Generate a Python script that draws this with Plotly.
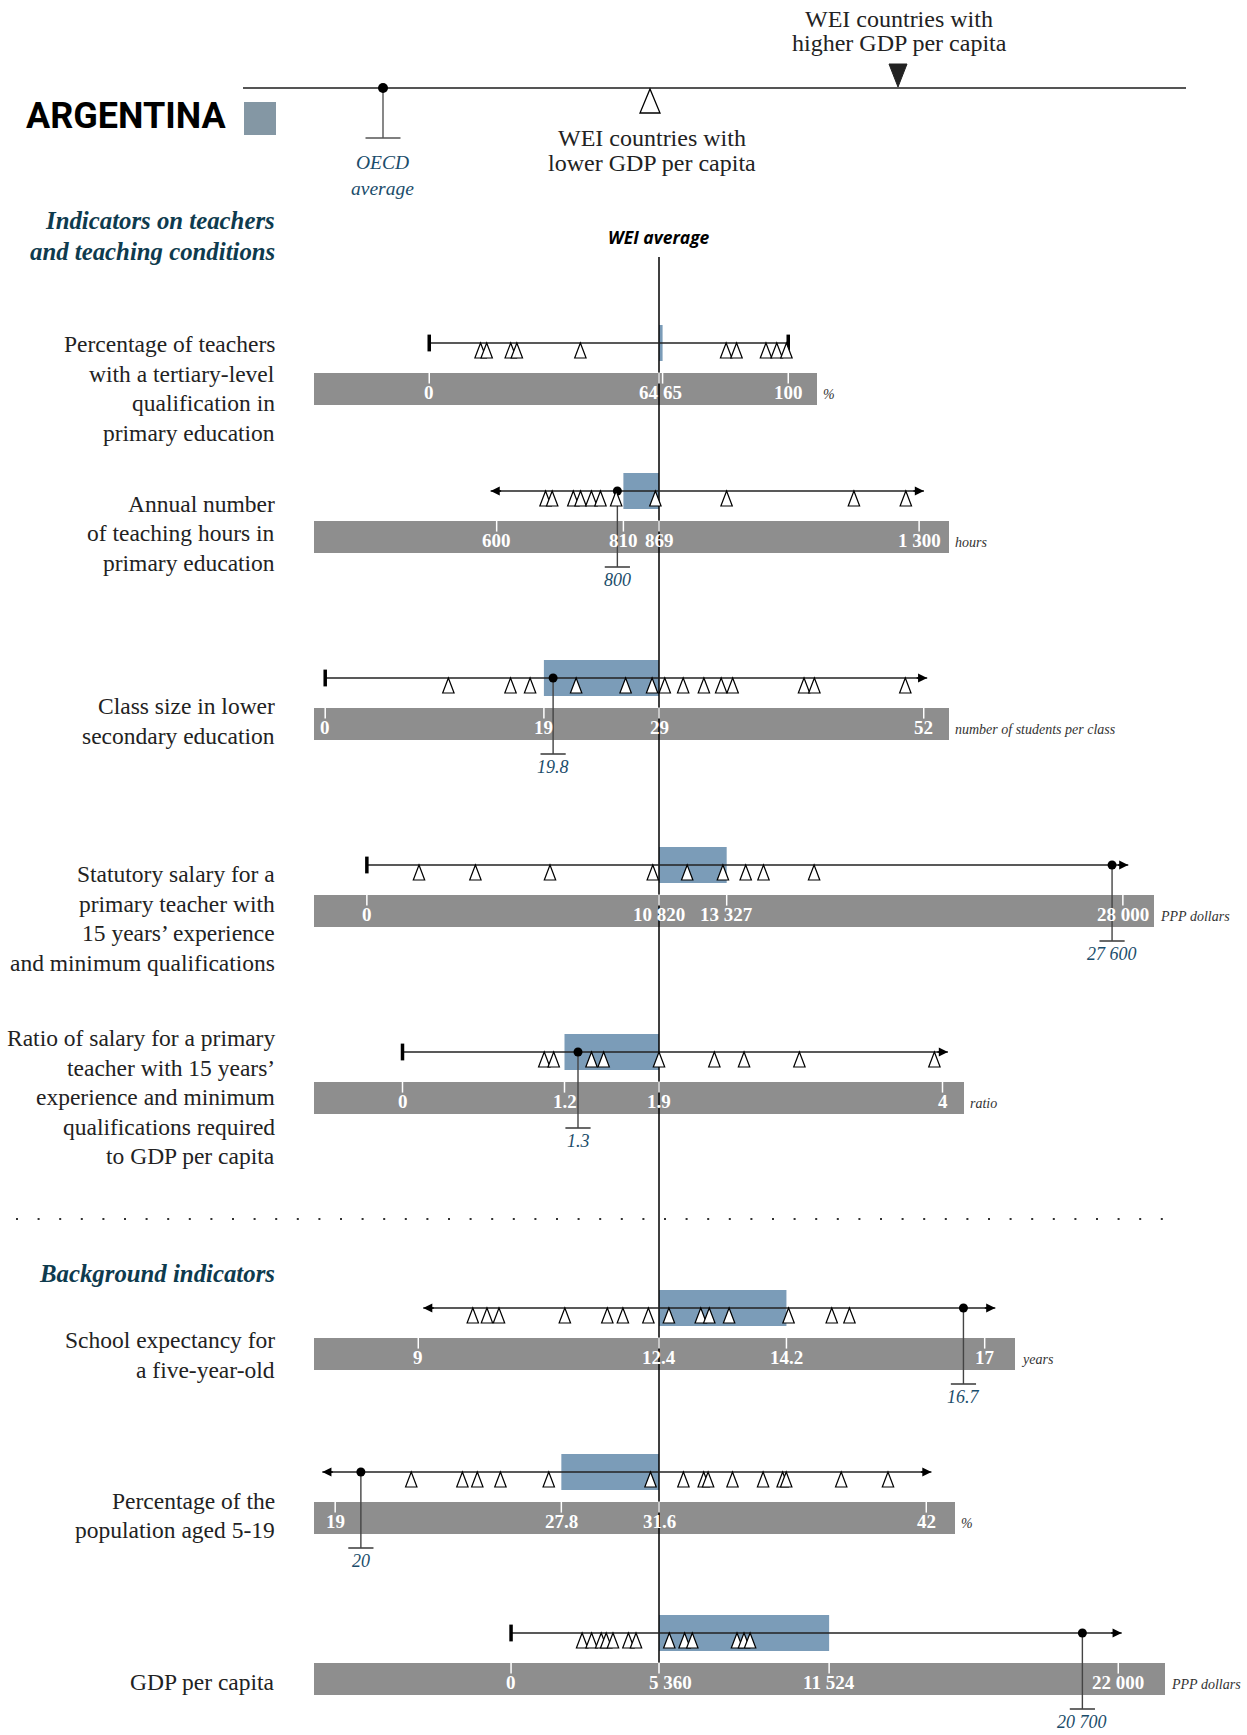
import plotly.graph_objects as go

W, H = 1247, 1735

# ---------------- data ----------------
LABELS = [
    ["Percentage of teachers", "with a tertiary-level", "qualification in", "primary education"],
    ["Annual number", "of teaching hours in", "primary education"],
    ["Class size in lower", "secondary education"],
    ["Statutory salary for a", "primary teacher with", "15 years’ experience", "and minimum qualifications"],
    ["Ratio of salary for a primary", "teacher with 15 years’", "experience and minimum",
     "qualifications required", "to GDP per capita"],
    ["School expectancy for", "a five-year-old"],
    ["Percentage of the", "population aged 5-19"],
    ["GDP per capita"],
]
UNITS = ["%", "hours", "number of students per class", "PPP dollars", "ratio", "years", "%", "PPP dollars"]

WEI_AVG = [64, 869, 29, 10820, 1.9, 12.4, 31.6, 5360]
ARGENTINA = [65, 810, 19, 13327, 1.2, 14.2, 27.8, 11524]
OECD_AVG = [None, 800, 19.8, 27600, 1.3, 16.7, 20, 20700]
OECD_TEXT = ["", "800", "19.8", "27 600", "1.3", "16.7", "20", "20 700"]

# extent of the WEI countries line and how each end is drawn
SPAN_LO = [0, 590, 0, 0, 0, 9.07, 18.5, 0]
SPAN_HI = [100, 1308, 52.3, 28200, 4.04, 17.15, 42.2, 22124]
LO_END = ["bar", "arrow", "bar", "bar", "bar", "arrow", "arrow", "bar"]
HI_END = ["bar", "arrow", "arrow", "arrow", "arrow", "arrow", "arrow", "arrow"]

TICKS = [
    [0, 64, 65, 100],
    [600, 810, 869, 1300],
    [0, 19, 29, 52],
    [0, 10820, 13327, 28000],
    [0, 1.2, 1.9, 4],
    [9, 12.4, 14.2, 17],
    [19, 27.8, 31.6, 42],
    [0, 5360, 11524, 22000],
]
TICK_TEXT = [
    ["0", "64", "65", "100"],
    ["600", "810", "869", "1 300"],
    ["0", "19", "29", "52"],
    ["0", "10 820", "13 327", "28 000"],
    ["0", "1.2", "1.9", "4"],
    ["9", "12.4", "14.2", "17"],
    ["19", "27.8", "31.6", "42"],
    ["0", "5 360", "11 524", "22 000"],
]

# other WEI countries (open triangles)
COUNTRIES = [
    [14.3, 16.0, 22.7, 24.4, 42.1, 82.7, 85.6, 93.8, 96.8, 99.5],
    [681, 692, 727, 739, 757, 772, 798, 863, 981, 1192, 1278],
    [10.7, 16.1, 17.8, 21.8, 26.1, 28.4, 29.5, 31.1, 32.9, 34.4, 35.4, 41.6, 42.5, 50.4],
    [1931, 4020, 6783, 10590, 11864, 13187, 14031, 14690, 16564],
    [1.05, 1.12, 1.40, 1.49, 1.90, 2.31, 2.53, 2.94, 3.94],
    [9.77, 9.97, 10.14, 11.07, 11.67, 11.89, 12.25, 12.54, 12.99, 13.11, 13.39, 14.23, 14.84, 15.09],
    [21.96, 23.95, 24.53, 25.43, 27.31, 31.27, 32.55, 33.34, 33.51, 34.46, 35.65, 36.41, 36.55, 38.69, 40.51],
    [2574, 2918, 3266, 3447, 3693, 4251, 4527, 5733, 6288, 6567, 8186, 8440, 8661],
]

# ---------------- layout settings ----------------
WEI_X = 659                       # pixel column of the WEI average line
PX_PER_UNIT = [3.59, 0.6035, 11.51, 0.027, 135, 70.8, 25.7, 0.0276]
ROW_Y = [343, 491, 678, 865, 1052, 1308, 1472, 1633]
LABEL_Y = [344, 503.5, 706, 874, 1038, 1340, 1500.5, 1682]
BAND_RIGHT = [817, 949, 949, 1154, 964, 1015, 955, 1165]
BAND_LEFT = 314
TICK_ANCHOR = {(0, 1): ("right", 1), (0, 2): ("left", -1), (7, 1): ("center", 11)}

GREY = "#8e8e8e"
BLUE = "#7b9cb8"
NAVY = "#1b4d6b"
TEAL = "#0e3b4e"
SERIF = "Liberation Serif, Times New Roman, serif"

fig = go.Figure()
shapes = []
annotations = []


def text(x, y, s, size, color="#222", xanchor="center", family=SERIF, xref="x"):
    annotations.append(dict(
        x=x, y=y, xref=xref, yref="y", text=s, showarrow=False,
        xanchor=xanchor, yanchor="middle", borderpad=0,
        font=dict(family=family, size=size, color=color),
    ))


layout = dict(
    xaxis=dict(range=[0, W], visible=False, domain=[0, 1], fixedrange=True),
    yaxis=dict(range=[H, 0], visible=False, domain=[0, 1], fixedrange=True),
)
for i in range(8):
    k = PX_PER_UNIT[i]
    w = WEI_AVG[i]
    layout["xaxis%d" % (i + 2)] = dict(
        range=[w - WEI_X / k, w + (W - WEI_X) / k],
        overlaying="x", anchor="y", visible=False, fixedrange=True,
    )

# grey bands first, then Argentina bars
for i in range(8):
    y = ROW_Y[i]
    shapes.append(dict(type="rect", xref="x", yref="y", x0=BAND_LEFT, x1=BAND_RIGHT[i],
                       y0=y + 30, y1=y + 62, fillcolor=GREY, line=dict(width=0), layer="below"))
for i in range(8):
    y = ROW_Y[i]
    shapes.append(dict(type="rect", xref="x%d" % (i + 2), yref="y", x0=WEI_AVG[i], x1=ARGENTINA[i],
                       y0=y - 18, y1=y + 18, fillcolor=BLUE, line=dict(width=0), layer="below"))

# WEI average vertical line
shapes.append(dict(type="line", xref="x2", yref="y", x0=WEI_AVG[0], x1=WEI_AVG[0], y0=257, y1=1663,
                   line=dict(color="black", width=1.5), layer="below"))

# dotted separator
shapes.append(dict(type="line", xref="x", yref="y", x0=16, x1=1182, y0=1219, y1=1219,
                   line=dict(color="#333", width=2.2, dash="2px,19.6px")))

for i in range(8):
    xa = "x%d" % (i + 2)
    y = ROW_Y[i]

    # main line
    fig.add_trace(go.Scatter(x=[SPAN_LO[i], SPAN_HI[i]], y=[y, y], xaxis=xa, yaxis="y",
                             mode="lines", line=dict(color="#222", width=1.4),
                             hoverinfo="skip", showlegend=False))
    for end, val, ax in ((LO_END[i], SPAN_LO[i], 12), (HI_END[i], SPAN_HI[i], -12)):
        if end == "bar":
            fig.add_trace(go.Scatter(x=[val], y=[y], xaxis=xa, yaxis="y", mode="markers",
                                     marker=dict(symbol="line-ns", size=12,
                                                 line=dict(color="black", width=3.5)),
                                     hoverinfo="skip", showlegend=False))
        else:
            annotations.append(dict(x=val, y=y, xref=xa, yref="y", ax=ax, ay=0, text="",
                                    showarrow=True, arrowhead=2, arrowsize=1.3, arrowwidth=1.4,
                                    arrowcolor="black"))

    # WEI countries
    for v in COUNTRIES[i]:
        shapes.append(dict(type="path", xref=xa, yref="y", xsizemode="pixel", xanchor=v,
                           path="M-5.7,%s L5.7,%s L0,%s Z" % (y + 15, y + 15, y),
                           fillcolor="white", line=dict(color="black", width=1.2)))

    # OECD average pin
    if OECD_AVG[i] is not None:
        o = OECD_AVG[i]
        fig.add_trace(go.Scatter(x=[o, o], y=[y, y + 76], xaxis=xa, yaxis="y", mode="lines",
                                 line=dict(color="#444", width=1.4),
                                 hoverinfo="skip", showlegend=False))
        fig.add_trace(go.Scatter(x=[o], y=[y + 76], xaxis=xa, yaxis="y", mode="markers",
                                 marker=dict(symbol="line-ew", size=18, line=dict(color="#444", width=1.6)),
                                 hoverinfo="skip", showlegend=False))
        fig.add_trace(go.Scatter(x=[o], y=[y], xaxis=xa, yaxis="y", mode="markers",
                                 marker=dict(symbol="circle", size=9, color="black"),
                                 hoverinfo="skip", showlegend=False))
        text(o, y + 89, "<i>%s</i>" % OECD_TEXT[i], 18, NAVY, xref=xa)

    # scale ticks on the grey band
    fig.add_trace(go.Scatter(x=TICKS[i], y=[y + 35] * len(TICKS[i]), xaxis=xa, yaxis="y",
                             mode="markers",
                             marker=dict(symbol="line-ns", size=8, line=dict(color="white", width=1.5)),
                             hoverinfo="skip", showlegend=False))
    for j, (tv, tt) in enumerate(zip(TICKS[i], TICK_TEXT[i])):
        anchor, shift = TICK_ANCHOR.get((i, j), ("center", 0))
        annotations.append(dict(x=tv, y=y + 49, xref=xa, yref="y", text="<b>%s</b>" % tt,
                                showarrow=False, xanchor=anchor, yanchor="middle", xshift=shift,
                                borderpad=0,
                                font=dict(family=SERIF, size=19, color="white")))

    # unit after the band
    text(BAND_RIGHT[i] + 5, y + 51, "<i>%s</i>" % UNITS[i], 14, "#333", xanchor="left")

    # indicator label on the left
    for n, line in enumerate(LABELS[i]):
        text(276, LABEL_Y[i] + n * 29.5, line, 23.5, "#222", xanchor="right")

# ---------------- header / legend ----------------
fig.add_trace(go.Scatter(x=[243, 1186], y=[88, 88], xaxis="x", yaxis="y", mode="lines",
                         line=dict(color="#555", width=2), hoverinfo="skip", showlegend=False))
fig.add_trace(go.Scatter(x=[383, 383], y=[88, 138], xaxis="x", yaxis="y", mode="lines",
                         line=dict(color="#555", width=1.4), hoverinfo="skip", showlegend=False))
fig.add_trace(go.Scatter(x=[383], y=[138], xaxis="x", yaxis="y", mode="markers",
                         marker=dict(symbol="line-ew", size=25, line=dict(color="#555", width=1.6)),
                         hoverinfo="skip", showlegend=False))
fig.add_trace(go.Scatter(x=[383], y=[88], xaxis="x", yaxis="y", mode="markers",
                         marker=dict(symbol="circle", size=10, color="black"),
                         hoverinfo="skip", showlegend=False))
shapes.append(dict(type="path", xref="x", yref="y", path="M640,113 L660,113 L650,89 Z",
                   fillcolor="white", line=dict(color="black", width=1.3)))
shapes.append(dict(type="path", xref="x", yref="y", path="M889,64 L907,64 L898,87 Z",
                   fillcolor="#222", line=dict(color="#222", width=1)))
shapes.append(dict(type="rect", xref="x", yref="y", x0=244, x1=276, y0=102, y1=135,
                   fillcolor="#8497a4", line=dict(width=0)))

text(382, 162, "<i>OECD</i>", 19.5, NAVY)
text(382, 188, "<i>average</i>", 19.5, NAVY)
text(652, 138, "WEI countries with", 24, "#222")
text(652, 163, "lower GDP per capita", 24, "#222")
text(899, 19, "WEI countries with", 24, "#222")
text(899, 43, "higher GDP per capita", 24, "#222")
text(227, 116, "<b>ARGENTINA</b>", 36, "black", xanchor="right",
     family="Roboto, Liberation Sans Narrow, sans-serif")
text(276, 220, "<b><i>Indicators on teachers</i></b>", 24.8, TEAL, xanchor="right")
text(276, 251, "<b><i>and teaching conditions</i></b>", 24.8, TEAL, xanchor="right")
text(276, 1273, "<b><i>Background indicators</i></b>", 24.8, TEAL, xanchor="right")
text(659, 237, "<b><i>WEI average</i></b>", 17.5, "black", family="Open Sans, Lato, sans-serif")

fig.update_layout(
    **layout,
    width=W, height=H,
    margin=dict(l=0, r=0, t=0, b=0),
    paper_bgcolor="white", plot_bgcolor="white",
    showlegend=False,
    shapes=shapes,
    annotations=annotations,
)

# the page's default body margin would shift the drawing by 8 px
fig.write_html("out.html", config={"displayModeBar": False},
               post_script="document.body.style.margin = '0px';")
